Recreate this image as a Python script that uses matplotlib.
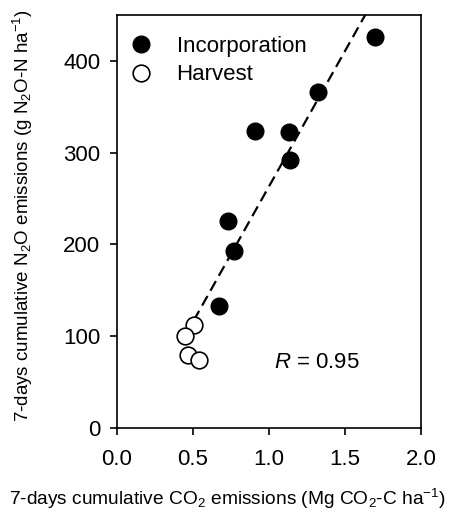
import matplotlib
matplotlib.use("Agg")
import matplotlib.pyplot as plt
import numpy as np

plt.rcParams['font.family'] = ['Liberation Sans', 'DejaVu Sans']
plt.rcParams['mathtext.fontset'] = 'custom'
plt.rcParams['mathtext.rm'] = 'Liberation Sans'
plt.rcParams['mathtext.it'] = 'Liberation Sans:italic'

# Incorporation (filled)
inc_co2 = [1.70, 1.32, 0.91, 1.13, 1.14, 0.73, 0.77, 0.67]
inc_n2o = [426, 366, 324, 322, 292, 226, 193, 133]
# Harvest (open)
har_co2 = [0.51, 0.45, 0.47, 0.54]
har_n2o = [112, 100, 79, 74]

# regression line
fit_slope = 295.0
fit_intercept = -32.0
fit_x = [0.45, 1.70]

fig = plt.figure(figsize=(4.55, 5.15), dpi=100)
ax = fig.add_axes([0.257, 0.169, 0.668, 0.802])

xs = np.array(fit_x)
ax.plot(xs, fit_slope * xs + fit_intercept, ls=(0, (5, 2.7)), c='black', lw=1.6, zorder=1)

ax.plot(inc_co2, inc_n2o, 'o', ms=12, mfc='black', mec='black', label='Incorporation', zorder=3)
ax.plot(har_co2, har_n2o, 'o', ms=12, mfc='white', mec='black', mew=1.2, label='Harvest', zorder=3)

ax.set_xlim(0, 2.0)
ax.set_ylim(0, 450)
ax.set_xticks([0.0, 0.5, 1.0, 1.5, 2.0])
ax.set_xticklabels(['0.0', '0.5', '1.0', '1.5', '2.0'])
ax.set_yticks([0, 100, 200, 300, 400])
ax.tick_params(axis='both', direction='out', length=5, width=1.2, labelsize=16)
ax.tick_params(axis='x', pad=10)
ax.tick_params(axis='y', pad=7)
for s in ax.spines.values():
    s.set_linewidth(1.2)

ax.set_xlabel('7-days cumulative CO$_2$ emissions (Mg CO$_2$-C ha$^{-1}$)', fontsize=13.8)
ax.xaxis.set_label_coords(0.3635, -0.142)
ax.set_ylabel('7-days cumulative N$_2$O emissions (g N$_2$O-N ha$^{-1}$)', fontsize=13.5)
ax.yaxis.set_label_coords(-0.27, 0.513)

ax.legend(loc='upper left', bbox_to_anchor=(-0.016, 0.993), frameon=False, fontsize=16,
          handletextpad=1.1, borderaxespad=0.4, labelspacing=0.35, handlelength=1.0, borderpad=0.4)

ax.text(1.316, 71, '$R$ = 0.95', fontsize=16, ha='center', va='center')

fig.savefig('out.png', dpi=100)
